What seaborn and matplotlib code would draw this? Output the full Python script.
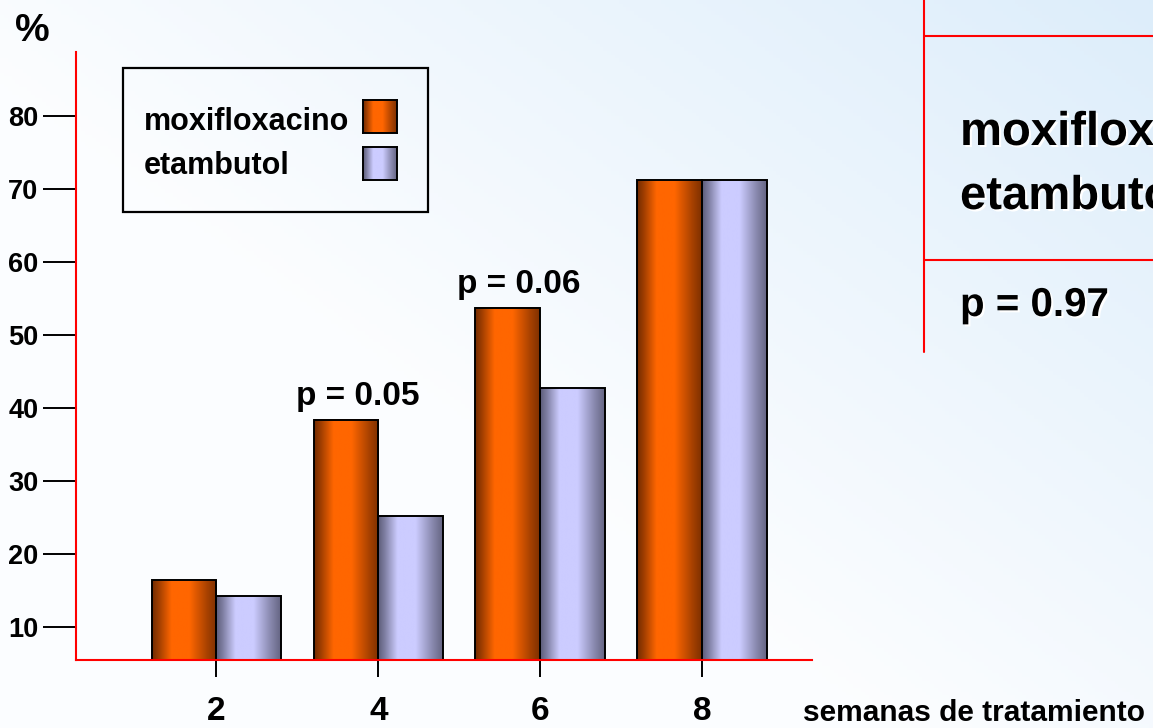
import numpy as np
import pandas as pd
import matplotlib
matplotlib.use("Agg")
import matplotlib.pyplot as plt
import matplotlib.patheffects as pe
from matplotlib.lines import Line2D
from matplotlib.patches import Rectangle
import seaborn as sns

sns.set_theme(style="white")
plt.rcParams.update({"text.color": "black", "xtick.color": "black",
                     "ytick.color": "black"})

# --- data -------------------------------------------------------------
WEEKS   = ["2", "4", "6", "8"]
DRUGS   = ["moxifloxacino", "etambutol"]
MOXI    = [16.4, 38.4, 53.7, 71.2]
ETAM    = [14.2, 25.2, 42.7, 71.2]
P_IDX   = [1, 2]
P_TEXT  = ["p = 0.05", "p = 0.06"]
YTICKS  = [10, 20, 30, 40, 50, 60, 70, 80]

FONT    = ["Liberation Sans", "DejaVu Sans"]

# gradient stops (dark edge -> light -> dark edge)
ORANGE  = dict(dark=(0.45, 0.17, 0.0), light=(1.0, 0.40, 0.0))
LAVEND  = dict(dark=(0.36, 0.36, 0.47), light=(0.80, 0.80, 1.0))

W, H = 1153, 728
fx = lambda px: px / W
fy = lambda py: 1 - py / H


def gradient(c, n=200):
    t = np.linspace(0, 1, n)
    g = np.interp(t, [0, 0.1, 0.3, 0.58, 0.85, 1], [0, 0.3, 1, 1, 0.38, 0.08])
    d, l = np.array(c["dark"]), np.array(c["light"])
    return (d + (l - d) * g[:, None])[None, :, :]


df = pd.DataFrame({"semana": WEEKS * 2,
                   "farmaco": [DRUGS[0]] * 4 + [DRUGS[1]] * 4,
                   "pct": MOXI + ETAM})

fig = plt.figure(figsize=(W / 100, H / 100), dpi=100)

# background wash (white -> light blue towards the top right)
bg = fig.add_axes([0, 0, 1, 1], zorder=-10)
xx, yy = np.meshgrid(np.linspace(0, 1, 300), np.linspace(1, 0, 200))
a = np.clip(xx * 0.8 + yy * 0.7 - 0.62, 0, 1)[..., None]
white, blue = np.array([0.988, 0.993, 1.0]), np.array([0.85, 0.922, 0.98])
bg.imshow(white + (blue - white) * a, extent=(0, 1, 0, 1), aspect="auto")
bg.axis("off")

ax = fig.add_axes([fx(76), fy(660), fx(812) - fx(76), fy(52) - fy(660)])
ax.set_facecolor("none")
sns.barplot(data=df, x="semana", y="pct", hue="farmaco", order=WEEKS,
            hue_order=DRUGS, palette=[ORANGE["light"], LAVEND["light"]],
            width=0.8, edgecolor="black", linewidth=1.4, saturation=1,
            legend=False, ax=ax)
ax.set_xlim(-0.868, 3.68)
ax.set_ylim(5.46, 88.77)
ybot = ax.get_ylim()[0]

# cylinder shading on every bar
for i, p in enumerate(ax.patches):
    c = ORANGE if i < len(WEEKS) else LAVEND
    x0, w, h = p.get_x(), p.get_width(), p.get_height()
    ax.imshow(gradient(c), extent=(x0, x0 + w, ybot, h), aspect="auto",
              zorder=p.get_zorder() + 0.1)
    p.set_facecolor("none")
    p.set_zorder(p.get_zorder() + 0.2)
ax.set_xlim(-0.868, 3.68)
ax.set_ylim(5.46, 88.77)

for k, txt in zip(P_IDX, P_TEXT):
    ax.text(k - 0.13, MOXI[k] + 2.0, txt, ha="center", va="baseline",
            fontsize=24, fontweight="bold", family=FONT)

ax.set_yticks(YTICKS)
ax.set_yticklabels([str(v) for v in YTICKS], fontsize=19.5,
                   fontweight="bold", family=FONT)
ax.set_xticks(range(len(WEEKS)))
ax.set_xticklabels(WEEKS, fontsize=24, fontweight="bold", family=FONT)
ax.set(xlabel="", ylabel="")
ax.tick_params(axis="y", length=24, width=1.4, color="black", pad=3,
               left=True, direction="out")
ax.tick_params(axis="x", length=12, width=1.4, color="black", pad=14,
               bottom=True, direction="out")
for s in ["top", "right"]:
    ax.spines[s].set_visible(False)
for s in ["left", "bottom"]:
    ax.spines[s].set_color("red")
    ax.spines[s].set_linewidth(1.5)

fig.text(fx(15), fy(41), "%", fontsize=28, fontweight="bold", family=FONT,
         va="baseline")
fig.text(fx(803), fy(721), "semanas de tratamiento", fontsize=21.5,
         fontweight="bold", family=FONT, va="baseline")

# legend box: labels left, swatches right
fig.add_artist(Rectangle((fx(123), fy(212)), fx(428) - fx(123), fy(68) - fy(212),
                         transform=fig.transFigure, fill=False, lw=1.6,
                         edgecolor="black"))
for lab, c, base, top in zip(DRUGS, [ORANGE, LAVEND], [130, 174], [100, 147]):
    fig.text(fx(144), fy(base), lab, fontsize=22, fontweight="bold",
             family=FONT, va="baseline")
    sw = fig.add_axes([fx(363), fy(top + 33), fx(397) - fx(363), fy(top) - fy(top + 33)])
    sw.imshow(gradient(c), aspect="auto", extent=(0, 1, 0, 1))
    sw.set_xticks([]); sw.set_yticks([])
    for s in sw.spines.values():
        s.set_linewidth(1.4); s.set_color("black")

# summary table fragment on the right (cut at the slide edge, as in the source)
red = dict(color="red", lw=1.5, transform=fig.transFigure)
fig.add_artist(Line2D([fx(924), fx(924)], [fy(0), fy(352)], **red))
fig.add_artist(Line2D([fx(924), 1], [fy(36), fy(36)], **red))
fig.add_artist(Line2D([fx(924), 1], [fy(260), fy(260)], **red))
shadow = [pe.withSimplePatchShadow(offset=(1.5, -1.5), shadow_rgbFace="white", alpha=1)]
for txt, base in zip(DRUGS, [145, 209]):
    fig.text(fx(960), fy(base), txt, fontsize=34, fontweight="bold", family=FONT,
             va="baseline", path_effects=shadow)
fig.text(fx(960), fy(316), "p = 0.97", fontsize=29, fontweight="bold", family=FONT,
         va="baseline", path_effects=shadow)

fig.savefig("out.png", dpi=100)
